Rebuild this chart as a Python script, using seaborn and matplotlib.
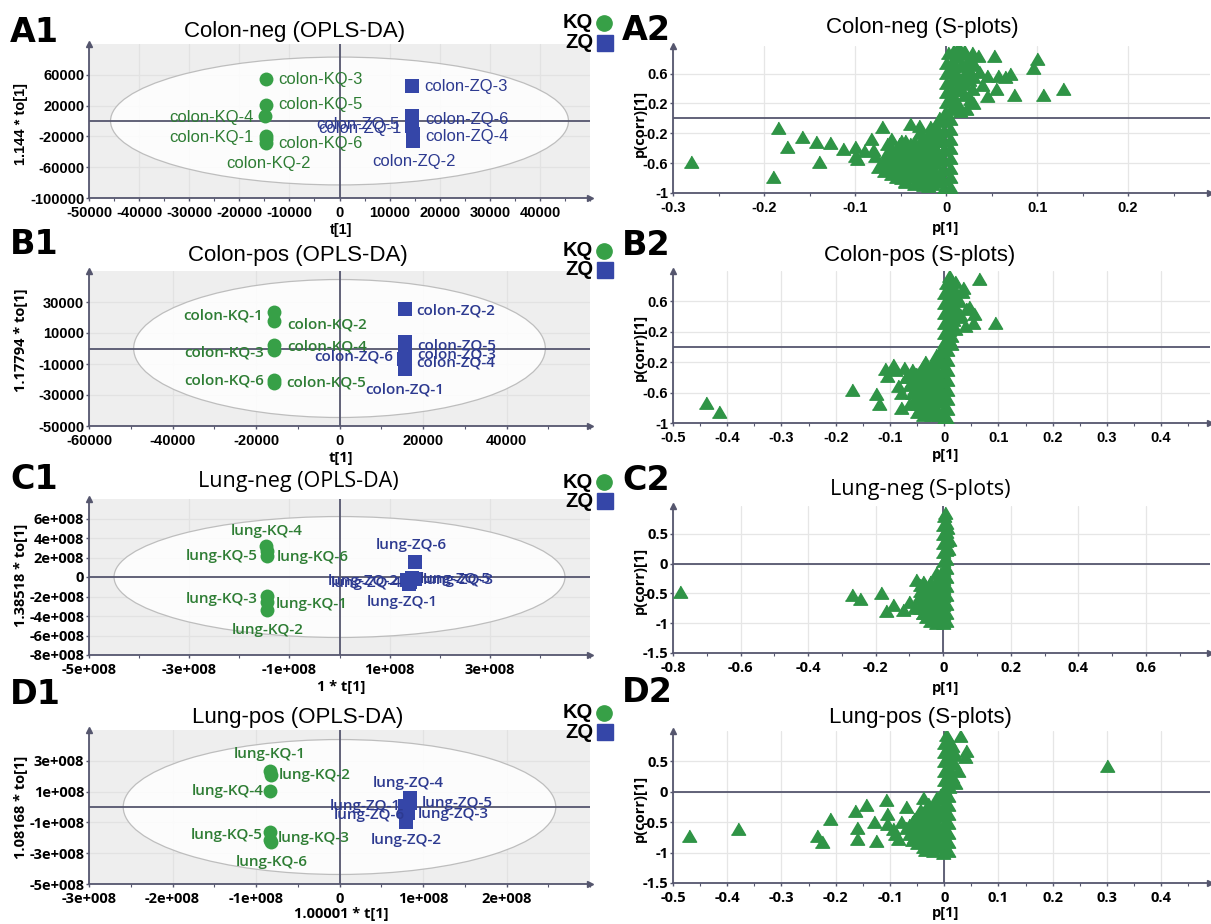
import matplotlib
matplotlib.use("Agg")
import matplotlib.pyplot as plt
import seaborn as sns
import pandas as pd
from matplotlib.patches import Ellipse
from matplotlib.lines import Line2D
from matplotlib.ticker import FixedLocator, AutoMinorLocator, FuncFormatter

sns.set_theme(style="ticks")
plt.rcParams["font.family"] = ["Liberation Sans", "DejaVu Sans"]
plt.rcParams["text.color"] = "black"
plt.rcParams["axes.labelcolor"] = "black"
plt.rcParams["xtick.color"] = "black"
plt.rcParams["ytick.color"] = "black"

# ---------------- DATA: OPLS-DA score plots ----------------
SAMPLES = ["1", "2", "3", "4", "5", "6"]

A1_KQ_T = [-14700, -14600, -14700, -14800, -14700, -14600]
A1_KQ_TO = [-19000, -24000, 54800, 6800, 20900, -28700]
A1_ZQ_T = [14500, 14600, 14500, 14600, 14400, 14500]
A1_ZQ_TO = [-7000, -26000, 45600, -17000, -3000, 6000]

B1_KQ_T = [-15800, -15700, -15800, -15700, -15800, -15700]
B1_KQ_TO = [23400, 18000, 2000, -1000, -22000, -20000]
B1_ZQ_T = [15600, 15600, 15700, 15600, 15700, 15500]
B1_ZQ_TO = [-13500, 25600, -3500, -10500, 4000, -7000]

C1_KQ_T = [-1.45e8, -1.44e8, -1.45e8, -1.46e8, -1.45e8, -1.44e8]
C1_KQ_TO = [-2.6e8, -3.4e8, -1.9e8, 3.2e8, 2.7e8, 2.2e8]
C1_ZQ_T = [1.38e8, 1.35e8, 1.5e8, 1.4e8, 1.45e8, 1.5e8]
C1_ZQ_TO = [-0.75e8, -0.3e8, -0.2e8, -0.5e8, -0.1e8, 1.58e8]

D1_KQ_T = [-0.83e8, -0.82e8, -0.83e8, -0.83e8, -0.83e8, -0.82e8]
D1_KQ_TO = [2.35e8, 2.08e8, -2.17e8, 1.03e8, -1.65e8, -2.28e8]
D1_ZQ_T = [0.78e8, 0.8e8, 0.82e8, 0.85e8, 0.85e8, 0.78e8]
D1_ZQ_TO = [0.07e8, -1.0e8, -0.38e8, 0.6e8, 0.29e8, -0.27e8]

# ---------------- DATA: S-plots (p[1], p(corr)[1]) ----------------
A2_POINTS = [
    (-0.003, -0.95), (0.004, -0.92), (-0.003, -0.82), (0.004, -0.79), (-0.003, -0.69), (0.004, -0.66),
    (-0.003, -0.56), (0.004, -0.53), (-0.003, -0.43), (0.004, -0.40), (-0.003, -0.30), (0.004, -0.27),
    (-0.003, -0.17), (0.004, -0.14), (-0.003, -0.04), (0.004, -0.01), (-0.001, 0.09), (0.005, 0.12),
    (0.0, 0.22), (0.006, 0.25), (0.0, 0.35), (0.006, 0.38), (0.0, 0.48), (0.006, 0.51), (0.0, 0.61),
    (0.006, 0.64), (0.0, 0.74), (0.006, 0.77), (0.002, 0.87), (0.008, 0.9),
    (0.013, 0.95), (0.012, 0.82), (0.018, 0.86), (0.025, 0.8), (0.015, 0.7), (0.024, 0.66), (0.03, 0.56),
    (0.013, 0.56), (0.02, 0.46), (0.028, 0.4), (0.012, 0.42), (0.02, 0.32), (0.026, 0.26), (0.012, 0.2),
    (0.015, 0.1), (0.031, 0.72), (0.036, 0.62), (0.02, 0.6), (0.028, 0.88),
    (0.02, 0.9), (0.008, 0.7), (0.022, 0.74), (0.018, 0.52), (0.025, 0.52), (0.008, 0.3), (0.016, 0.38),
    (0.01, 0.15),
    (0.035, 0.84), (0.053, 0.84), (0.1, 0.8), (0.095, 0.68), (0.045, 0.57), (0.057, 0.57), (0.065, 0.56),
    (0.07, 0.6), (0.055, 0.4), (0.045, 0.3), (0.075, 0.31), (0.107, 0.31), (0.128, 0.4), (0.04, 0.45),
    (0.03, 0.2), (0.022, 0.12),
    (-0.012, -0.1), (-0.008, 0.0), (-0.018, -0.12), (-0.03, -0.2), (-0.02, -0.22), (-0.012, -0.2),
    (-0.045, -0.3), (-0.035, -0.31), (-0.025, -0.29), (-0.015, -0.3),
    (-0.06, -0.4), (-0.05, -0.41), (-0.04, -0.39), (-0.03, -0.4), (-0.02, -0.41), (-0.012, -0.4),
    (-0.065, -0.5), (-0.055, -0.5), (-0.045, -0.51), (-0.035, -0.49), (-0.025, -0.5), (-0.015, -0.5),
    (-0.07, -0.6), (-0.06, -0.61), (-0.05, -0.6), (-0.04, -0.59), (-0.03, -0.6), (-0.02, -0.61), (-0.012, -0.6),
    (-0.068, -0.7), (-0.058, -0.7), (-0.048, -0.71), (-0.038, -0.69), (-0.028, -0.7), (-0.018, -0.7),
    (-0.05, -0.8), (-0.04, -0.79), (-0.03, -0.81), (-0.02, -0.8), (-0.012, -0.8),
    (-0.035, -0.88), (-0.025, -0.89), (-0.015, -0.88),
    (-0.052, -0.35), (-0.04, -0.45), (-0.06, -0.55), (-0.025, -0.55), (-0.045, -0.65), (-0.015, -0.65),
    (-0.035, -0.75), (-0.06, -0.75), (-0.022, -0.35), (-0.01, -0.5), (-0.008, -0.75), (-0.02, -0.85),
    (-0.065, -0.45), (-0.055, -0.45), (-0.03, -0.45), (-0.02, -0.45), (-0.01, -0.45), (-0.05, -0.55),
    (-0.04, -0.55), (-0.035, -0.55), (-0.015, -0.55), (-0.065, -0.65), (-0.055, -0.65), (-0.035, -0.65),
    (-0.025, -0.65), (-0.05, -0.75), (-0.045, -0.75), (-0.025, -0.75), (-0.015, -0.75), (-0.045, -0.84),
    (-0.03, -0.85), (-0.012, -0.85), (-0.04, -0.35), (-0.03, -0.35), (-0.01, -0.3), (-0.025, -0.25),
    (-0.01, -0.15),
    (-0.28, -0.59), (-0.19, -0.78), (-0.185, -0.13), (-0.175, -0.38), (-0.158, -0.25), (-0.143, -0.31),
    (-0.14, -0.58), (-0.127, -0.33), (-0.113, -0.41), (-0.10, -0.39), (-0.10, -0.5), (-0.098, -0.55),
    (-0.09, -0.44), (-0.08, -0.43), (-0.083, -0.28), (-0.07, -0.12), (-0.075, -0.65), (-0.06, -0.27),
    (-0.05, -0.3), (-0.04, -0.08), (-0.03, -0.1), (-0.055, -0.78), (-0.045, -0.85), (-0.02, -0.9),
    (-0.065, -0.35), (-0.078, -0.5),
]

B2_POINTS = [
    (-0.004, -0.98), (0.006, -0.95), (-0.004, -0.85), (0.006, -0.82), (-0.004, -0.72), (0.006, -0.69),
    (-0.004, -0.59), (0.006, -0.56), (-0.004, -0.46), (0.006, -0.43), (-0.004, -0.33), (0.006, -0.3),
    (-0.004, -0.2), (0.006, -0.17), (-0.004, -0.07), (0.006, -0.04), (0.0, 0.06), (0.008, 0.09),
    (0.0, 0.19), (0.008, 0.22), (0.0, 0.32), (0.008, 0.35), (0.0, 0.45), (0.008, 0.48), (0.0, 0.58),
    (0.008, 0.61), (0.0, 0.71), (0.008, 0.74), (0.004, 0.84), (0.01, 0.88),
    (0.008, 0.93), (0.015, 0.8), (0.018, 0.7), (0.02, 0.62), (0.014, 0.55), (0.022, 0.5), (0.026, 0.4),
    (0.016, 0.35), (0.02, 0.24), (0.012, 0.15), (0.028, 0.6), (0.032, 0.72), (0.035, 0.78), (0.04, 0.5),
    (0.046, 0.53), (0.055, 0.44), (0.053, 0.31), (0.038, 0.27), (0.065, 0.89), (0.093, 0.31),
    (0.03, 0.42), (0.012, 0.04), (0.012, 0.68), (0.01, 0.4), (0.02, 0.85), (0.015, 0.28),
    (-0.015, -0.1), (-0.008, -0.05), (-0.035, -0.2), (-0.02, -0.2), (-0.01, -0.21), (-0.06, -0.3),
    (-0.045, -0.31), (-0.03, -0.3), (-0.015, -0.3), (-0.07, -0.4), (-0.055, -0.41), (-0.04, -0.4),
    (-0.025, -0.39), (-0.012, -0.4), (-0.065, -0.5), (-0.05, -0.5), (-0.035, -0.51), (-0.02, -0.5),
    (-0.06, -0.6), (-0.045, -0.6), (-0.03, -0.61), (-0.015, -0.6), (-0.055, -0.7), (-0.04, -0.7),
    (-0.025, -0.71), (-0.012, -0.7), (-0.045, -0.8), (-0.03, -0.8), (-0.015, -0.81), (-0.04, -0.9),
    (-0.025, -0.9), (-0.012, -0.9),
    (-0.052, -0.35), (-0.03, -0.45), (-0.05, -0.55), (-0.02, -0.65), (-0.04, -0.75), (-0.01, -0.55),
    (-0.06, -0.45), (-0.045, -0.45), (-0.015, -0.45), (-0.055, -0.55), (-0.04, -0.55), (-0.025, -0.55),
    (-0.05, -0.65), (-0.035, -0.65), (-0.01, -0.65), (-0.05, -0.75), (-0.025, -0.75), (-0.035, -0.85),
    (-0.02, -0.85), (-0.04, -0.25), (-0.025, -0.25), (-0.055, -0.35), (-0.035, -0.35), (-0.015, -0.35),
    (-0.44, -0.735), (-0.415, -0.85), (-0.17, -0.56), (-0.125, -0.62), (-0.12, -0.75), (-0.11, -0.29),
    (-0.105, -0.38), (-0.095, -0.24), (-0.085, -0.51), (-0.08, -0.6), (-0.08, -0.8), (-0.075, -0.28),
    (-0.07, -0.4), (-0.065, -0.75), (-0.09, -0.3), (-0.05, -0.85),
]

C2_POINTS = [
    (0.0, -1.0), (0.008, -0.97), (0.0, -0.85), (0.008, -0.82), (0.0, -0.7), (0.008, -0.67), (0.0, -0.55),
    (0.008, -0.52), (0.0, -0.4), (0.008, -0.37), (0.0, -0.25), (0.008, -0.22), (0.0, -0.1), (0.008, -0.07),
    (0.0, 0.05), (0.008, 0.08), (0.0, 0.2), (0.008, 0.23), (0.0, 0.35), (0.008, 0.38), (0.0, 0.5),
    (0.008, 0.53), (0.0, 0.65), (0.008, 0.68), (0.002, 0.8), (0.006, 0.85), (0.018, 0.4), (0.015, 0.25),
    (0.012, 0.6),
    (-0.02, -0.15), (-0.01, -0.18), (-0.06, -0.3), (-0.04, -0.31), (-0.02, -0.3), (-0.07, -0.45),
    (-0.05, -0.46), (-0.03, -0.44), (-0.01, -0.45), (-0.075, -0.6), (-0.055, -0.61), (-0.035, -0.6),
    (-0.015, -0.6), (-0.07, -0.75), (-0.05, -0.76), (-0.03, -0.74), (-0.01, -0.75), (-0.05, -0.9),
    (-0.03, -0.91), (-0.01, -0.9), (-0.02, -1.0),
    (-0.04, -0.38), (-0.06, -0.52), (-0.025, -0.52), (-0.045, -0.68), (-0.02, -0.68), (-0.04, -0.83),
    (-0.055, -0.38), (-0.025, -0.38), (-0.07, -0.52), (-0.045, -0.52), (-0.01, -0.52), (-0.065, -0.68),
    (-0.03, -0.68), (-0.06, -0.83), (-0.02, -0.83), (-0.04, -0.97),
    (-0.78, -0.48), (-0.27, -0.52), (-0.245, -0.6), (-0.185, -0.5), (-0.17, -0.8), (-0.15, -0.7),
    (-0.12, -0.78), (-0.1, -0.64), (-0.08, -0.27), (-0.085, -0.75), (-0.07, -0.35), (-0.06, -0.82),
]

D2_POINTS = [
    (-0.002, -1.0), (0.007, -0.97), (-0.002, -0.85), (0.007, -0.82), (-0.002, -0.7), (0.007, -0.67),
    (-0.002, -0.55), (0.007, -0.52), (-0.002, -0.4), (0.007, -0.37), (-0.002, -0.25), (0.007, -0.22),
    (-0.002, -0.1), (0.007, -0.07), (0.0, 0.05), (0.008, 0.08), (0.0, 0.2), (0.008, 0.23), (0.0, 0.35),
    (0.008, 0.38), (0.0, 0.5), (0.008, 0.53), (0.0, 0.65), (0.008, 0.68), (0.0, 0.8), (0.008, 0.83),
    (0.004, 0.93),
    (0.015, 0.75), (0.02, 0.6), (0.018, 0.45), (0.025, 0.35), (0.015, 0.25), (0.03, 0.92), (0.04, 0.67),
    (0.038, 0.57), (0.02, 0.15), (0.3, 0.42),
    (-0.015, -0.1), (-0.008, -0.05), (-0.03, -0.2), (-0.015, -0.2), (-0.045, -0.3), (-0.03, -0.31),
    (-0.015, -0.3), (-0.05, -0.4), (-0.035, -0.41), (-0.02, -0.4), (-0.06, -0.5), (-0.045, -0.5),
    (-0.03, -0.51), (-0.015, -0.5), (-0.07, -0.6), (-0.055, -0.61), (-0.04, -0.6), (-0.025, -0.6),
    (-0.012, -0.61), (-0.065, -0.7), (-0.05, -0.7), (-0.035, -0.71), (-0.02, -0.7), (-0.06, -0.8),
    (-0.045, -0.8), (-0.03, -0.81), (-0.015, -0.8), (-0.04, -0.9), (-0.025, -0.9), (-0.012, -0.91),
    (-0.02, -0.98),
    (-0.04, -0.35), (-0.025, -0.45), (-0.05, -0.55), (-0.02, -0.55), (-0.045, -0.65), (-0.01, -0.65),
    (-0.035, -0.75), (-0.05, -0.85), (-0.01, -0.85), (-0.01, -0.35),
    (-0.055, -0.45), (-0.035, -0.45), (-0.065, -0.55), (-0.035, -0.55), (-0.06, -0.65), (-0.03, -0.65),
    (-0.055, -0.75), (-0.02, -0.75), (-0.035, -0.85), (-0.025, -0.35), (-0.02, -0.25), (-0.035, -0.95),
    (-0.47, -0.72), (-0.38, -0.61), (-0.235, -0.73), (-0.225, -0.83), (-0.21, -0.44), (-0.165, -0.31),
    (-0.16, -0.6), (-0.16, -0.78), (-0.145, -0.22), (-0.13, -0.5), (-0.125, -0.81), (-0.108, -0.14),
    (-0.105, -0.36), (-0.105, -0.53), (-0.095, -0.61), (-0.085, -0.78), (-0.07, -0.25), (-0.04, -0.11),
    (-0.09, -0.7), (-0.08, -0.5),
]

# ---------------- STYLE / LAYOUT ----------------
W, H = 1211, 924
GREEN_MK = "#37a047"
GREEN_TX = "#2e7d34"
BLUE_MK = "#3546a8"
BLUE_TX = "#2d3a90"
TRI_GREEN = "#2f9446"
AXC = "#55566e"
SEGOE = ["Open Sans", "DejaVu Sans"]
ARIAL = ["Liberation Sans", "DejaVu Sans"]
TRI = [(-1.0, -0.8), (1.0, -0.8), (0.0, 0.9)]

# label offsets in pixels (dx, dy, ha) per sample index
A1_KQ_OFF = [(-12, -2, "right"), (2, -24, "center"), (12, -1, "left"), (-12, -2, "right"), (12, 0, "left"), (12, 0, "left")]
A1_ZQ_OFF = [(-11, -2, "right"), (1, -20, "center"), (12, -1, "left"), (13, -2, "left"), (-12, -1, "right"), (13, -3, "left")]
B1_KQ_OFF = [(-10, -3, "right"), (13, -4, "left"), (-10, -7, "right"), (13, 4, "left"), (13, 0, "left"), (-10, -1, "right")]
B1_ZQ_OFF = [(0, -20, "center"), (12, -2, "left"), (12, -1, "left"), (12, 2, "left"), (12, -3, "left"), (-11, 3, "right")]
C1_KQ_OFF = [(9, -2, "left"), (0, -20, "center"), (-9, -3, "right"), (0, 15, "center"), (-9, -5, "right"), (9, -1, "left")]
C1_ZQ_OFF = [(-6, -18, "center"), (-8, -1, "right"), (8, -1, "left"), (-8, -1, "right"), (8, -1, "left"), (-3, 17, "center")]
D1_KQ_OFF = [(0, 17, "center"), (8, 0, "left"), (8, 2, "left"), (-7, 0, "right"), (-7, -3, "right"), (1, -20, "center")]
D1_ZQ_OFF = [(-4, 0, "right"), (0, -18, "center"), (10, -1, "left"), (-2, 15, "center"), (11, 0, "left"), (0, -4, "right")]

fig = plt.figure(figsize=(W / 100, H / 100), dpi=100)


def add_axes(x0, y0, x1, y1):
    return fig.add_axes([x0 / W, 1 - y1 / H, (x1 - x0) / W, (y1 - y0) / H])


def ftext(x, y, s, **kw):
    fig.text(x / W, 1 - y / H, s, **kw)


def style_axes(ax, xlim, ylim, xticks, yticks, fmt, tickfont, bg, gridc):
    ax.set_xlim(*xlim)
    ax.set_ylim(*ylim)
    ax.set_facecolor(bg)
    ax.xaxis.set_major_locator(FixedLocator(xticks))
    ax.yaxis.set_major_locator(FixedLocator(yticks))
    ax.xaxis.set_minor_locator(AutoMinorLocator(2))
    ax.xaxis.set_major_formatter(FuncFormatter(fmt))
    ax.yaxis.set_major_formatter(FuncFormatter(fmt))
    ax.set_axisbelow(True)
    ax.grid(True, color=gridc, lw=0.9)
    for s in ("top", "right"):
        ax.spines[s].set_visible(False)
    for s in ("left", "bottom"):
        ax.spines[s].set_color(AXC)
        ax.spines[s].set_linewidth(1.3)
    ax.tick_params(axis="x", which="major", length=2.5, width=1, color=AXC, pad=3)
    ax.tick_params(axis="x", which="minor", length=2, width=0.8, color=AXC)
    ax.tick_params(axis="y", which="major", length=2.5, width=1, color=AXC, pad=1)
    for lab in ax.get_xticklabels() + ax.get_yticklabels():
        lab.set_fontfamily(tickfont)
        lab.set_fontweight("bold")
        lab.set_fontsize(10.5)
        lab.set_color("black")
    ax.set_xlabel("")
    ax.set_ylabel("")
    ax.axhline(0, color=AXC, lw=1.3, zorder=2)
    ax.axvline(0, color=AXC, lw=1.3, zorder=2)
    ax.plot([1], [0], marker=">", ms=5, color=AXC, transform=ax.transAxes, clip_on=False)
    ax.plot([0], [1], marker="^", ms=5, color=AXC, transform=ax.transAxes, clip_on=False)


def fmt_int(v, pos=None):
    return f"{int(round(v))}"


def fmt_e8(v, pos=None):
    if abs(v) < 1:
        return "0"
    return f"{v / 1e8:g}e+008"


def fmt_g(v, pos=None):
    return "0" if abs(v) < 1e-9 else f"{v:g}"


def score_panel(box, kq_t, kq_to, zq_t, zq_to, prefix, kq_off, zq_off, ell, xlim, ylim,
                xticks, yticks, fmt, tickfont, labfont, labsize, labweight):
    ax = add_axes(*box)
    ax.add_patch(Ellipse((0, 0), 2 * ell[0], 2 * ell[1], facecolor="white", alpha=0.85,
                         edgecolor="#b4b4b4", lw=0.9, zorder=1))
    kq = pd.DataFrame({"t": kq_t, "to": kq_to, "name": [f"{prefix}-KQ-{s}" for s in SAMPLES]})
    zq = pd.DataFrame({"t": zq_t, "to": zq_to, "name": [f"{prefix}-ZQ-{s}" for s in SAMPLES]})
    sns.scatterplot(data=kq, x="t", y="to", marker="o", s=100, color=GREEN_MK, linewidth=0,
                    ax=ax, zorder=4, legend=False)
    sns.scatterplot(data=zq, x="t", y="to", marker="s", s=110, color=BLUE_MK, linewidth=0,
                    ax=ax, zorder=4, legend=False)
    for df, offs, col in ((kq, kq_off, GREEN_TX), (zq, zq_off, BLUE_TX)):
        for (x, y, name), (dx, dy, ha) in zip(df[["t", "to", "name"]].values, offs):
            ax.annotate(name, (x, y), xytext=(dx * 0.72, dy * 0.72), textcoords="offset points",
                        ha=ha, va="center", color=col, fontsize=labsize, family=labfont,
                        fontweight=labweight, zorder=5)
    style_axes(ax, xlim, ylim, xticks, yticks, fmt, tickfont, "#eeeeee", "#e2e2e2")
    return ax


def s_panel(box, pts, xlim, ylim, xticks, yticks, tickfont):
    ax = add_axes(*box)
    df = pd.DataFrame(pts, columns=["p", "pcorr"])
    sns.scatterplot(data=df, x="p", y="pcorr", marker=TRI, s=105, color=TRI_GREEN,
                    edgecolor=TRI_GREEN, linewidth=1.0, ax=ax, zorder=4, legend=False)
    style_axes(ax, xlim, ylim, xticks, yticks, fmt_g, tickfont, "white", "#e6e6e6")
    return ax


def legend_block(yk, yz):
    ftext(593, yk, "KQ", ha="right", va="center", fontsize=14.5, fontweight="bold", family=ARIAL)
    ftext(593, yz, "ZQ", ha="right", va="center", fontsize=14.5, fontweight="bold", family=ARIAL)
    fig.add_artist(Line2D([604 / W], [1 - yk / H], marker="o", ms=11, color=GREEN_MK, lw=0,
                          transform=fig.transFigure))
    fig.add_artist(Line2D([605 / W], [1 - yz / H], marker="s", ms=11, color=BLUE_MK, lw=0,
                          transform=fig.transFigure))


# ---------------- LEFT COLUMN ----------------
score_panel((89, 44, 590, 198), A1_KQ_T, A1_KQ_TO, A1_ZQ_T, A1_ZQ_TO, "colon", A1_KQ_OFF, A1_ZQ_OFF,
            (45700, 83000), (-50000, 50000), (-100000, 100000),
            list(range(-50000, 50000, 10000)), [-100000, -60000, -20000, 20000, 60000],
            fmt_int, ARIAL, ARIAL, 12, "normal")
score_panel((89, 271, 590, 426), B1_KQ_T, B1_KQ_TO, B1_ZQ_T, B1_ZQ_TO, "colon", B1_KQ_OFF, B1_ZQ_OFF,
            (49300, 44500), (-60000, 60000), (-50000, 50000),
            [-60000, -40000, -20000, 0, 20000, 40000], [-50000, -30000, -10000, 10000, 30000],
            fmt_int, ARIAL, SEGOE, 11, "semibold")
score_panel((89, 499, 590, 655), C1_KQ_T, C1_KQ_TO, C1_ZQ_T, C1_ZQ_TO, "lung", C1_KQ_OFF, C1_ZQ_OFF,
            (4.5e8, 6.2e8), (-5e8, 5e8), (-8e8, 8e8),
            [-5e8, -3e8, -1e8, 1e8, 3e8], [-8e8, -6e8, -4e8, -2e8, 0, 2e8, 4e8, 6e8],
            fmt_e8, SEGOE, SEGOE, 11, "semibold")
score_panel((89, 730, 590, 884), D1_KQ_T, D1_KQ_TO, D1_ZQ_T, D1_ZQ_TO, "lung", D1_KQ_OFF, D1_ZQ_OFF,
            (2.59e8, 4.38e8), (-3e8, 3e8), (-5e8, 5e8),
            [-3e8, -2e8, -1e8, 0, 1e8, 2e8], [-5e8, -3e8, -1e8, 1e8, 3e8],
            fmt_e8, SEGOE, SEGOE, 11, "semibold")

# ---------------- RIGHT COLUMN ----------------
s_panel((673, 46, 1210, 193), A2_POINTS, (-0.3, 0.29), (-1, 0.97),
        [-0.3, -0.2, -0.1, 0, 0.1, 0.2], [-1, -0.6, -0.2, 0.2, 0.6], ARIAL)
s_panel((673, 271, 1210, 423), B2_POINTS, (-0.5, 0.49), (-1, 1.0),
        [-0.5, -0.4, -0.3, -0.2, -0.1, 0, 0.1, 0.2, 0.3, 0.4], [-1, -0.6, -0.2, 0.2, 0.6], ARIAL)
s_panel((673, 506, 1210, 653), C2_POINTS, (-0.8, 0.79), (-1.5, 0.97),
        [-0.8, -0.6, -0.4, -0.2, 0, 0.2, 0.4, 0.6], [-1.5, -1, -0.5, 0, 0.5], SEGOE)
s_panel((673, 731, 1210, 883), D2_POINTS, (-0.5, 0.49), (-1.5, 1.0),
        [-0.5, -0.4, -0.3, -0.2, -0.1, 0, 0.1, 0.2, 0.3, 0.4], [-1.5, -1, -0.5, 0, 0.5], SEGOE)

# ---------------- TEXT ----------------
for x, y, s in [(10, 32, "A1"), (622, 31, "A2"), (10, 245, "B1"), (622, 246, "B2"),
                (10, 480, "C1"), (622, 481, "C2"), (10, 694, "D1"), (622, 693, "D2")]:
    ftext(x, y, s, ha="left", va="center", fontsize=24, fontweight="bold", family=["DejaVu Sans"])

for x, y, s, fam in [(295, 31, "Colon-neg (OPLS-DA)", ARIAL), (922, 27, "Colon-neg (S-plots)", ARIAL),
                     (298, 256, "Colon-pos (OPLS-DA)", ARIAL), (920, 255, "Colon-pos (S-plots)", ARIAL),
                     (298, 481, "Lung-neg (OPLS-DA)", SEGOE), (920, 490, "Lung-neg (S-plots)", SEGOE),
                     (298, 718, "Lung-pos (OPLS-DA)", ARIAL), (920, 717, "Lung-pos (S-plots)", ARIAL)]:
    ftext(x, y, s, ha="center", va="center", fontsize=16 if fam is ARIAL else 15.5, family=fam)

for x, y, s, fam in [(21, 124, "1.144 * to[1]", ARIAL), (21, 340, "1.17794 * to[1]", SEGOE),
                     (21, 575, "1.38518 * to[1]", SEGOE), (21, 807, "1.08168 * to[1]", SEGOE),
                     (640, 123, "p(corr)[1]", SEGOE), (640, 347, "p(corr)[1]", SEGOE),
                     (640, 580, "p(corr)[1]", SEGOE), (640, 808, "p(corr)[1]", SEGOE)]:
    ftext(x, y, s, ha="center", va="center", rotation=90, fontsize=10.5, fontweight="bold", family=fam)

for x, y, s, fam in [(341, 230, "t[1]", ARIAL), (946, 228, "p[1]", SEGOE),
                     (341, 458, "t[1]", SEGOE), (946, 455, "p[1]", SEGOE),
                     (341, 687, "1 * t[1]", SEGOE), (946, 688, "p[1]", SEGOE),
                     (341, 914, "1.00001 * t[1]", SEGOE), (946, 913, "p[1]", SEGOE)]:
    ftext(x, y, s, ha="center", va="center", fontsize=10.5, fontweight="bold", family=fam)

legend_block(23, 43)
legend_block(251, 270)
legend_block(482, 501)
legend_block(713, 732)

fig.savefig("out.png", dpi=100)
